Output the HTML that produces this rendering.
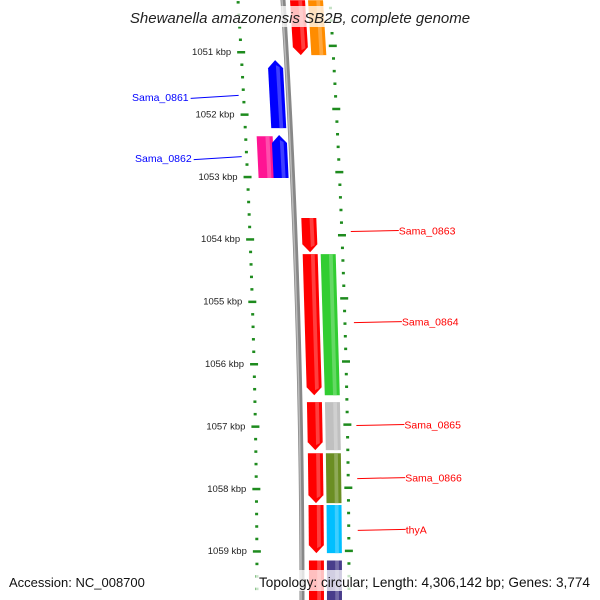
<!DOCTYPE html>
<html><head><meta charset="utf-8"><style>
body{margin:0;background:#fff}
svg{display:block}
text{font-family:"Liberation Sans",sans-serif}
</style></head><body>
<svg id="c" width="600" height="600" viewBox="0 0 600 600"></svg>
<script>
const geneStart=[1050.17,1050.17,1051.13,1052.35,1052.33,1053.66,1054.24,1054.24,1056.61,1056.61,1057.43,1057.43,1058.26,1058.26,1059.15,1059.15];
const geneEnd=[1051.05,1051.05,1052.22,1053.02,1053.02,1054.21,1056.50,1056.50,1057.38,1057.38,1058.23,1058.23,1059.03,1059.03,1060.0,1060.0];
const geneTrack=[1,2,-1,-2,-1,1,1,2,1,2,1,2,1,2,1,2];
const geneArrow=[1,0,-1,0,-1,1,1,0,1,0,1,0,1,0,0,0];
const geneColor=["#ff0000","#ff8c00","#0000ff","#ff1493","#0000ff","#ff0000","#ff0000","#32cd32","#ff0000","#c0c0c0","#ff0000","#6b8e23","#ff0000","#00bfff","#ff0000","#483d8b"];
const tickKbp=[1051,1052,1053,1054,1055,1056,1057,1058,1059];
const labelNames=["Sama_0861","Sama_0862","Sama_0863","Sama_0864","Sama_0865","Sama_0866","thyA"];
const labelKbp=[1051.72,1052.70,1053.86,1055.32,1056.97,1057.82,1058.65];
const labelSide=[-1,-1,1,1,1,1,1];

const NS="http://www.w3.org/2000/svg";
const svg=document.getElementById('c');
function yOf(k){return 52+(k-1051)*62.4;}
function xAt(y){const t=Math.max(-0.2,Math.min(1.1,y/600));return 283+19*(1-(1-t)*(1-t));}
function mk(tag,attrs){const e=document.createElementNS(NS,tag);for(const k in attrs)e.setAttribute(k,attrs[k]);svg.appendChild(e);return e;}
const trackOff={1:[7,22],2:[25,40],'-1':[-19,-4],'-2':[-34,-18]};

let d="";for(let y=-5;y<=605;y+=5){d+=(y==-5?"M":"L")+xAt(y).toFixed(2)+","+y;}
let bb=mk('path',{d:d,stroke:"#888",'stroke-width':5,fill:"none"});


let bb2=mk('path',{d:d,stroke:"#bbb",'stroke-width':1.5,fill:"none",transform:"translate(-1,0)"});



for(let k=1050;k<=1060.001;k+=0.2){
  const kk=Math.round(k*10)/10;const major=Math.abs(kk-Math.round(kk))<0.01;
  const y=yOf(kk);if(y<-5||y>600)continue;
  const xl=xAt(y)-45, yr=y-7*(1-y/600);const xr=xAt(yr)+47;
  const w=major?8:3;
  let a=mk('rect',{x:xl-w/2,y:y-1,width:w,height:2.5,fill:"#1e8b1e"});
  
  
  let b=mk('rect',{x:xr-w/2,y:yr-1,width:w,height:2.5,fill:"#1e8b1e"});
  
  
}
tickKbp.forEach(k=>{const y=yOf(k);
  let t=mk('text',{x:xAt(y)-55,y:y+3,'font-size':9.5,'text-anchor':'end',fill:"#222"});t.textContent=k+" kbp";
  
  });

function lighten(c,f){const n=parseInt(c.slice(1),16);let r=n>>16,g=(n>>8)&255,b=n&255;
 r=Math.round(r+(255-r)*f);g=Math.round(g+(255-g)*f);b=Math.round(b+(255-b)*f);return `rgb(${r},${g},${b})`;}
for(let i=0;i<geneStart.length;i++){
  const y0=yOf(geneStart[i]),y1=yOf(geneEnd[i]);const o=trackOff[geneTrack[i]];
  const x0a=xAt(y0)+o[0],x1a=xAt(y0)+o[1],x0b=xAt(y1)+o[0],x1b=xAt(y1)+o[1];
  let pts;const h=8;
  if(geneArrow[i]==1){const ym=y1-h;const xm0=xAt(ym)+o[0],xm1=xAt(ym)+o[1];
    pts=[[x0a,y0],[x1a,y0],[xm1,ym],[(x0b+x1b)/2,y1],[xm0,ym]];}
  else if(geneArrow[i]==-1){const ym=y0+h;const xm0=xAt(ym)+o[0],xm1=xAt(ym)+o[1];
    pts=[[(x0a+x1a)/2,y0],[xm1,ym],[x1b,y1],[x0b,y1],[xm0,ym]];}
  else pts=[[x0a,y0],[x1a,y0],[x1b,y1],[x0b,y1]];
  let p=mk('polygon',{points:pts.map(q=>q.join(',')).join(' '),fill:geneColor[i]});
  
  
  const w=o[1]-o[0];
  let hl=mk('polygon',{points:[[x0a+w*0.55,y0+(geneArrow[i]==-1?5:0)],[x0a+w*0.8,y0+(geneArrow[i]==-1?7:0)],[x0b+w*0.8,y1-(geneArrow[i]==1?7:0)],[x0b+w*0.55,y1-(geneArrow[i]==1?5:0)]].map(q=>q.join(',')).join(' '),fill:lighten(geneColor[i],0.3),opacity:0.8});
  
  
}

for(let i=0;i<labelNames.length;i++){
  const y=yOf(labelKbp[i]);
  if(labelSide[i]<0){
    const xe=xAt(y)-50;
    let l=mk('line',{x1:xe-48,y1:y+1.5,x2:xe,y2:y-1.5,stroke:"#0000ff",'stroke-width':1});
    
    
    let t=mk('text',{x:xe-50,y:y+4,'font-size':10.5,'text-anchor':'end',fill:"#0000ff"});t.textContent=labelNames[i];
    
    
  } else {
    const xs=xAt(y)+56;
    let l=mk('line',{x1:xs,y1:y+1,x2:xs+48,y2:y,stroke:"#ff0000",'stroke-width':1});
    
    
    let t=mk('text',{x:xs+48,y:y+4,'font-size':10.5,fill:"#ff0000"});t.textContent=labelNames[i];
    
    
  }
}

let tb=mk('rect',{x:126,y:6,width:348,height:21,fill:"#fff",opacity:0.75});


let tt=mk('text',{x:300,y:23,'font-size':15,'font-style':'italic','text-anchor':'middle',fill:"#222"});
tt.textContent="Shewanella amazonensis SB2B, complete genome";


let fb=mk('rect',{x:256,y:570,width:340,height:21,fill:"#fff",opacity:0.75});


let f1=mk('text',{x:9,y:587,'font-size':13,fill:"#111"});f1.textContent="Accession: NC_008700";


let f2=mk('text',{x:590,y:587,'font-size':13.6,'text-anchor':'end',fill:"#111"});f2.textContent="Topology: circular; Length: 4,306,142 bp; Genes: 3,774";


</script>
</body></html>
